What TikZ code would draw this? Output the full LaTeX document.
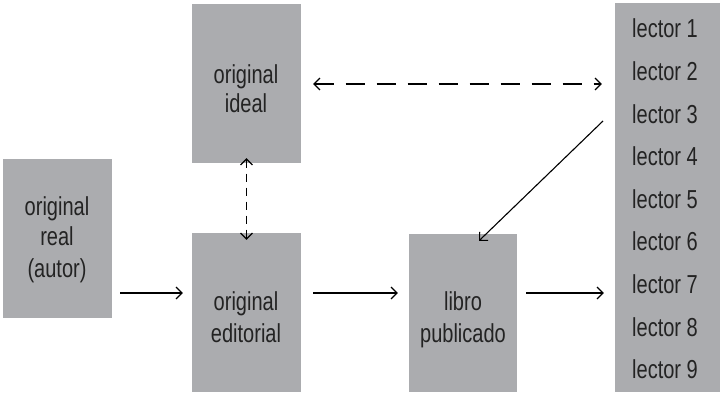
\documentclass[tikz,border=0pt]{standalone}
\usepackage{fontspec}
\setmainfont{Liberation Sans}[FakeStretch=0.77]
\usetikzlibrary{arrows.meta}
\definecolor{boxgray}{HTML}{ABACAF}
\definecolor{txt}{HTML}{232323}
\tikzset{
  box/.style={fill=boxgray, draw=none, inner sep=0pt},
  lbl/.style={anchor=base, inner sep=0pt, text=txt, font=\fontsize{26}{28}\selectfont},
  arr/.style={line width=1.1pt, -{Straight Barb[length=6pt,width=12pt]}},
  darr/.style={line width=1.1pt, {Straight Barb[length=6pt,width=12pt]}-{Straight Barb[length=6pt,width=12pt]}},
}
\begin{document}
\begin{tikzpicture}[x=1pt,y=-1pt]
\useasboundingbox (0,0) rectangle (724,393);
% boxes
\node[box, minimum width=109pt, minimum height=159pt] (real) at (57.5,238.5) {};
\node[box, minimum width=109pt, minimum height=159pt] (ideal) at (246.5,83.5) {};
\node[box, minimum width=109pt, minimum height=159pt] (ed) at (246.5,312.5) {};
\node[box, minimum width=108pt, minimum height=158pt] (libro) at (463,313) {};
\node[box, minimum width=105pt, minimum height=389pt] (lect) at (667.5,197.5) {};
% texts
\node[lbl] (r1) at (57,216) {original};
\node[lbl] (r2) at (57,246) {real};
\node[lbl] (r3) at (57,277) {(autor)};
\node[lbl] (i1) at (246,84) {original};
\node[lbl] (i2) at (246,113) {ideal};
\node[lbl] (e1) at (246,310) {original};
\node[lbl] (e2) at (246,342) {editorial};
\node[lbl] (l1) at (463,310) {libro};
\node[lbl] (l2) at (463,342) {publicado};
\foreach \i in {1,...,9}{
  \node[lbl] (lc\i) at (665,{38+42.6*(\i-1)}) {lector \i};
}
% connectors
\coordinate (row) at (0,293);
\coordinate (top) at (0,84);
\draw[arr] ([xshift=8pt]real.east |- row) -- ([xshift=-9pt]ed.west |- row);
\draw[arr] ([xshift=12pt]ed.east |- row) -- ([xshift=-11pt]libro.west |- row);
\draw[arr] ([xshift=9pt]libro.east |- row) -- ([xshift=-11pt]lect.west |- row);
\draw[darr, dash pattern=on 19pt off 12pt] ([xshift=12pt]ideal.east |- top) -- ([xshift=-13pt]lect.west |- top);
\draw[darr, dash pattern=on 8pt off 6pt] ([yshift=5pt]ideal.south) -- ([yshift=-7pt]ed.north);
\coordinate (dstart) at (603,121);
\draw[arr] (dstart) -- ([xshift=16pt,yshift=-7pt]libro.north);
\end{tikzpicture}
\end{document}
